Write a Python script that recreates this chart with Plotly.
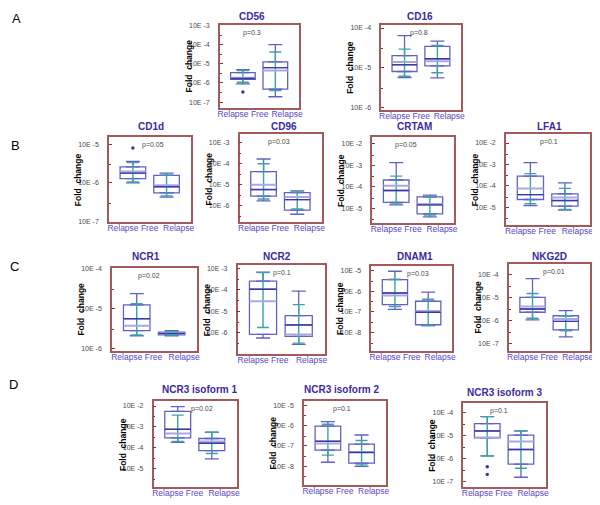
import plotly.graph_objects as go

# ---------------- data (log10 of fold change) ----------------
PANELS = ["CD56", "CD16", "CD1d", "CD96", "CRTAM", "LFA1", "NCR1", "NCR2",
          "DNAM1", "NKG2D", "NCR3 isoform 1", "NCR3 isoform 2", "NCR3 isoform 3"]
P_VALUES = ["p=0.3", "p=0.8", "p=0.05", "p=0.03", "p=0.05", "p=0.1", "p=0.02",
            "p=0.1", "p=0.03", "p=0.01", "p=0.02", "p=0.1", "p=0.1"]
GROUPS = ["Relapse Free", "Relapse"]
LETTERS = ["A", "B", "C", "D"]

# Relapse Free
RF_MIN = [-6.05, -5.24, -6.00, -5.77, -4.84, -4.93, -5.69, -6.26, -6.88, -5.97, -3.75, -7.80, -5.88]
RF_P10 = [-5.96, -5.21, -5.98, -5.68, -4.80, -4.84, -5.67, -5.77, -6.75, -5.90, -3.70, -7.45, -5.88]
RF_Q1 = [-5.81, -5.09, -5.89, -5.54, -4.72, -4.64, -5.56, -6.09, -6.65, -5.64, -3.53, -7.20, -5.10]
RF_MED = [-5.77, -4.92, -5.75, -5.23, -4.17, -4.41, -5.26, -3.98, -6.09, -5.50, -3.12, -6.77, -4.80]
RF_MEAN = [-5.73, -4.85, -5.71, -5.00, -3.95, -4.12, -5.44, -4.54, -6.21, -5.39, -3.32, -6.88, -5.08]
RF_Q3 = [-5.46, -4.69, -5.59, -4.37, -3.68, -3.55, -4.91, -3.60, -5.44, -5.00, -2.26, -6.02, -4.48]
RF_P90 = [-5.35, -4.53, -5.48, -4.00, -3.50, -3.43, -4.88, -3.20, -5.42, -4.83, -2.44, -5.93, -4.18]
RF_MAX = [-5.30, -4.19, -5.45, -3.77, -2.87, -2.92, -4.63, -3.18, -5.03, -4.19, -2.03, -5.80, -4.18]

# Relapse
R_MIN = [-6.72, -5.25, -6.37, -6.41, -5.40, -5.14, -5.69, -6.56, -7.67, -6.70, -4.54, -8.00, -6.80]
R_P10 = [-6.40, -5.12, -6.34, -6.16, -5.31, -5.10, -5.67, -6.50, -7.67, -6.44, -4.28, -7.93, -6.41]
R_Q1 = [-6.32, -4.95, -6.26, -6.21, -5.26, -4.95, -5.67, -6.18, -7.63, -6.40, -4.14, -7.84, -6.23]
R_MED = [-5.20, -4.77, -6.10, -5.71, -4.84, -4.69, -5.63, -5.65, -7.02, -6.03, -3.79, -7.32, -5.60]
R_MEAN = [-5.35, -4.83, -6.06, -5.59, -4.80, -4.55, -5.62, -6.10, -6.96, -5.93, -3.70, -7.30, -5.26]
R_Q3 = [-4.90, -4.46, -5.81, -5.38, -4.47, -4.38, -5.60, -5.21, -6.49, -5.79, -3.56, -6.91, -4.98]
R_P90 = [-4.38, -4.44, -5.80, -5.34, -4.47, -4.12, -5.58, -4.70, -6.39, -5.79, -3.26, -6.73, -4.80]
R_MAX = [-4.00, -4.33, -5.75, -5.29, -4.38, -3.86, -5.56, -4.07, -6.05, -5.57, -3.26, -6.46, -4.80]

# outliers (Relapse Free group)
OUT_PANEL = [0, 2, 12, 12]
OUT_LOG = [-6.47, -5.10, -6.35, -6.68]

# axis ranges (log10) and labelled decades
Y_LO = [-7.30, -6.05, -7.02, -6.80, -5.70, -5.85, -6.07, -7.00, -8.90, -7.30, -5.90, -8.93, -7.23]
Y_HI = [-2.96, -3.92, -4.83, -2.60, -1.70, -1.60, -3.98, -2.84, -4.77, -3.56, -1.77, -4.80, -3.60]
TICK_TOP = [-3, -4, -5, -3, -2, -2, -4, -3, -5, -4, -2, -5, -4]
TICK_BOTTOM = [-7, -6, -7, -6, -5, -5, -6, -6, -8, -7, -5, -8, -7]

# ---------------- layout geometry (window pixels: left, top, right, bottom) ----------------
PAGE_MARGIN = 8          # default body margin of the html page
W, H = 600 - PAGE_MARGIN, 505 - PAGE_MARGIN
FRAMES = [
    (220, 22, 300, 106), (383, 22, 464, 108),
    (108, 136, 191, 222), (240, 133, 323, 222), (374, 136, 457, 223), (509, 133, 594, 225),
    (111, 268, 197, 352), (238, 265, 326, 355), (373, 266, 455, 352), (512, 264, 594, 352),
    (153, 403, 237, 490), (305, 403, 388, 488), (466, 405, 549, 490),
]
TITLE_POS = [(252, 14), (422, 14),
             (150, 125), (285, 125), (417, 125), (553, 125),
             (145, 256), (278, 256), (417, 256), (553, 256),
             (199, 391), (343, 391), (508, 394)]
P_FRAC = [0.40, 0.47, 0.54, 0.48, 0.41, 0.51, 0.43, 0.51, 0.57, 0.55, 0.58, 0.46, 0.43]
LETTER_POS = [(15, 16), (14, 144), (13, 267), (12, 386)]

FRAME_C = "#a35a5a"
BOX_C = "#6262c2"
MED_C = "#3a3aa2"
MEAN_C = "#a9a9e2"
TEAL_C = "#3aa5a2"
TITLE_C = "#3b2ba0"
XLAB_C = "#5a46c4"
FONT = "Liberation Sans, Arial, sans-serif"

XR = [-0.71, 1.73]
BOXW = 0.76


def px(xp):
    return (xp - PAGE_MARGIN) / W


def py(yp):
    return 1 - (yp - PAGE_MARGIN) / H


def p10(v):
    return 10 ** v


fig = go.Figure()
layout = dict(width=W, height=H, margin=dict(l=0, r=0, t=0, b=0), autosize=False,
              paper_bgcolor="white", plot_bgcolor="white", showlegend=False,
              font=dict(family=FONT))
annotations = []

for i, name in enumerate(PANELS):
    n = "" if i == 0 else str(i + 1)
    xa, ya = "x" + n, "y" + n
    l, t, r, b = FRAMES[i]
    xs = [0, 1]
    q1 = [p10(RF_Q1[i]), p10(R_Q1[i])]
    q3 = [p10(RF_Q3[i]), p10(R_Q3[i])]
    med = [p10(RF_MED[i]), p10(R_MED[i])]
    mean = [p10(RF_MEAN[i]), p10(R_MEAN[i])]
    mn = [p10(RF_MIN[i]), p10(R_MIN[i])]
    mx = [p10(RF_MAX[i]), p10(R_MAX[i])]
    lo = [p10(RF_P10[i]), p10(R_P10[i])]
    hi = [p10(RF_P90[i]), p10(R_P90[i])]

    fig.add_trace(go.Box(x=xs, q1=q1, median=med, q3=q3, lowerfence=q1, upperfence=q3,
                         boxpoints=False, width=BOXW, fillcolor="rgba(255,255,255,0)",
                         line=dict(color=BOX_C, width=1.3), xaxis=xa, yaxis=ya,
                         hoverinfo="skip"))
    inv = dict(size=2, color="rgba(0,0,0,0)")
    # blue whiskers (box edge -> extreme), with caps
    fig.add_trace(go.Scatter(x=xs, y=q3, mode="markers", marker=inv, xaxis=xa, yaxis=ya,
                             error_y=dict(type="data", symmetric=False,
                                          array=[a - c for a, c in zip(mx, q3)], arrayminus=[0, 0],
                                          color=BOX_C, thickness=1.3, width=7)))
    fig.add_trace(go.Scatter(x=xs, y=q1, mode="markers", marker=inv, xaxis=xa, yaxis=ya,
                             error_y=dict(type="data", symmetric=False,
                                          array=[0, 0], arrayminus=[c - a for a, c in zip(mn, q1)],
                                          color=BOX_C, thickness=1.3, width=7)))
    # teal percentile bars
    fig.add_trace(go.Scatter(x=xs, y=lo, mode="markers", marker=inv, xaxis=xa, yaxis=ya,
                             error_y=dict(type="data", symmetric=False,
                                          array=[h - g for g, h in zip(lo, hi)], arrayminus=[0, 0],
                                          color=TEAL_C, thickness=1.4, width=6)))
    # mean line (light) and median line (dark)
    fig.add_trace(go.Scatter(x=xs, y=mean, mode="markers", marker=inv, xaxis=xa, yaxis=ya,
                             error_x=dict(type="constant", value=BOXW / 2, color=MEAN_C,
                                          thickness=2, width=0)))
    fig.add_trace(go.Scatter(x=xs, y=med, mode="markers", marker=inv, xaxis=xa, yaxis=ya,
                             error_x=dict(type="constant", value=BOXW / 2, color=MED_C,
                                          thickness=1.4, width=0)))
    oy = [p10(v) for k, v in zip(OUT_PANEL, OUT_LOG) if k == i]
    if oy:
        fig.add_trace(go.Scatter(x=[0] * len(oy), y=oy, mode="markers",
                                 marker=dict(size=3.5, color=MED_C), xaxis=xa, yaxis=ya))

    decades = list(range(TICK_BOTTOM[i], TICK_TOP[i] + 1))
    axline = dict(showline=True, mirror=True, linecolor=FRAME_C, linewidth=1.5,
                  showgrid=False, zeroline=False, fixedrange=True)
    layout["xaxis" + n] = dict(domain=[px(l), px(r)], anchor=ya, range=XR,
                               tickmode="array", tickvals=[0.0, 1.36], ticktext=GROUPS,
                               tickfont=dict(size=8.5, color=XLAB_C), ticks="",
                               ticklabelstandoff=-3, **axline)
    layout["yaxis" + n] = dict(domain=[py(b), py(t)], anchor=xa, type="log",
                               range=[Y_LO[i], Y_HI[i]], tickmode="array",
                               tickvals=[p10(e) for e in decades],
                               ticktext=["10E %d" % e for e in decades],
                               tickfont=dict(size=7, color="#4a4a4a"),
                               ticks="inside", ticklen=3, tickcolor="#a02828",
                               ticklabelstandoff=7,
                               minor=dict(tickmode="array",
                                          tickvals=[3 * p10(e) for e in range(TICK_BOTTOM[i] - 1, TICK_TOP[i] + 1)],
                                          ticks="inside", ticklen=2, tickcolor="#a02828"),
                               **axline)

    tx, ty = TITLE_POS[i]
    annotations.append(dict(text="<b>%s</b>" % name, x=px(tx), y=py(ty), xref="paper",
                            yref="paper", showarrow=False, xanchor="center", yanchor="middle",
                            font=dict(size=10, color=TITLE_C)))
    annotations.append(dict(text=P_VALUES[i], x=px(l + P_FRAC[i] * (r - l)), y=py(t + 8),
                            xref="paper", yref="paper", showarrow=False, xanchor="center",
                            yanchor="middle", font=dict(size=7, color="#4a4a4a")))
    annotations.append(dict(text="<b>Fold  change</b>", x=px(l - 31), y=py((t + b) / 2),
                            xref="paper", yref="paper", showarrow=False, textangle=-90,
                            xanchor="center", yanchor="middle",
                            font=dict(size=8.5, color="black")))

for letter, (lx, ly) in zip(LETTERS, LETTER_POS):
    annotations.append(dict(text=letter, x=px(lx), y=py(ly), xref="paper", yref="paper",
                            showarrow=False, xanchor="center", yanchor="middle",
                            font=dict(size=13, color="black")))

layout["annotations"] = annotations
fig.update_layout(**layout)
fig.write_html("out.html")
